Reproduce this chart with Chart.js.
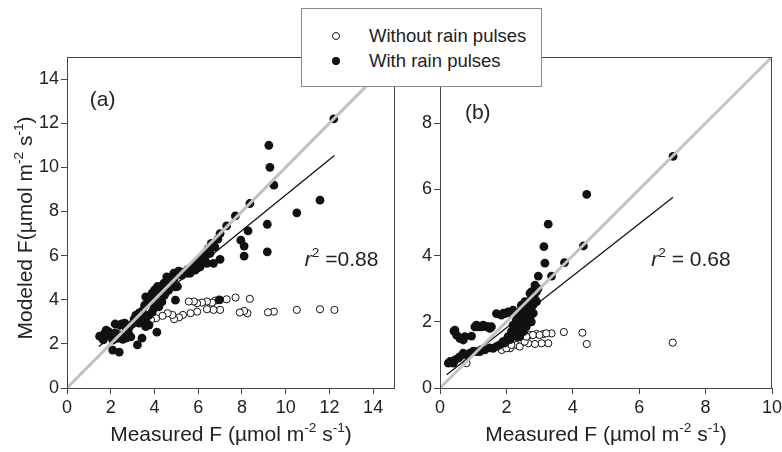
<!DOCTYPE html>
<html>
<head>
<meta charset="UTF-8">
<title>Modeled vs measured F</title>
<script src="https://cdn.jsdelivr.net/npm/chart.js@4.4.0/dist/chart.umd.min.js"></script>
<style>
  body { margin: 0; background: #fff; }
  #wrap { position: relative; width: 782px; height: 452px; }
  #c1 { position: absolute; left: 0; top: 0; }
  #c2 { position: absolute; left: 400px; top: 0; }
  #legend {
    position: absolute; left: 301px; top: 8px; width: 239px; height: 77px;
    background: #fff; border: 1px solid #8a8a8a;
    font-family: "Liberation Sans", Arial, sans-serif; font-size: 18.5px; color: #222;
  }
  .row { position: absolute; left: 30px; height: 22px; line-height: 22px; white-space: nowrap; }
  .dot { position: absolute; left: 0; top: 7px; width: 8px; height: 8px; border-radius: 50%; box-sizing: border-box; }
  .row span.t { position: absolute; left: 37px; }
</style>
</head>
<body>
<div id="wrap">
  <canvas id="c1" width="400" height="452"></canvas>
  <canvas id="c2" width="382" height="452"></canvas>
  <div id="legend">
    <div class="row" style="top:16px"><div class="dot" style="border:1px solid #111;background:#fff"></div><span class="t">Without rain pulses</span></div>
    <div class="row" style="top:41px"><div class="dot" style="background:#111"></div><span class="t">With rain pulses</span></div>
  </div>
</div>
<script>
// tick labels
var aTicks = [0, 2, 4, 6, 8, 10, 12, 14];
var bTicks = [0, 2, 4, 6, 8, 10];

// panel (a)
var aFillX = [12.2, 9.23, 9.28, 9.46, 8.36, 10.51, 11.57, 9.16, 9.16, 8.28, 7.95, 8.1, 8.1, 7.7, 7.3, 7.0, 7.0, 6.7, 6.96, 4.96, 4.11, 3.6, 3.43, 3.22, 2.39, 2.09,
  1.49, 1.79, 2.09, 2.7, 2.92, 3.07, 3.6, 3.75, 3.6, 3.89, 4.2, 4.5, 4.2, 3.98, 4.56, 4.88, 5.18, 4.96, 4.79, 5.41, 5.63, 5.86, 6.09, 6.31, 6.54, 6.76, 6.6,
  3.75, 3.3, 2.7, 4.34, 4.65, 4.43, 2.4, 2.64, 3.1, 3.24, 4.0, 4.14, 4.37, 4.74, 5.05, 5.5, 5.95, 6.17, 6.4, 1.66,
  1.7, 1.9, 2.0, 2.2, 2.3, 2.5, 2.55, 2.8, 2.85, 3.0, 3.15, 3.3, 3.45, 3.55, 3.7, 3.8, 3.95, 4.05, 4.1, 4.25, 4.4, 4.55, 4.7, 4.85, 5.0,
  5.25, 5.5, 5.7, 5.9, 6.0, 6.2, 6.35, 6.45, 6.65, 6.9, 3.35, 3.5, 3.9, 4.45, 4.9, 5.1, 2.2, 2.5];
var aFillY = [12.2, 11.0, 10.0, 9.19, 8.36, 7.94, 8.51, 7.42, 6.17, 7.12, 6.7, 6.43, 5.98, 7.8, 7.35, 7.0, 5.83, 5.65, 3.99, 3.98, 2.53, 2.78, 2.26, 1.95, 1.63, 1.72,
  2.35, 2.62, 2.17, 2.26, 2.32, 3.12, 3.08, 3.3, 4.13, 4.3, 4.58, 4.3, 3.68, 3.62, 5.04, 5.2, 5.26, 4.58, 4.81, 5.26, 5.2, 5.34, 5.49, 5.79, 6.1, 6.4, 6.55,
  2.85, 2.94, 2.71, 3.9, 4.43, 4.75, 2.86, 2.94, 3.1, 3.3, 4.44, 4.6, 4.29, 4.6, 4.6, 5.2, 5.42, 5.8, 5.65, 2.18,
  2.45, 2.55, 2.35, 2.5, 2.25, 2.4, 2.2, 2.5, 2.75, 2.9, 3.3, 3.4, 3.5, 3.75, 3.9, 4.05, 4.2, 3.9, 4.3, 4.45, 4.6, 4.7, 4.9, 5.05, 5.2,
  5.1, 5.35, 5.45, 5.6, 5.7, 5.9, 6.05, 6.3, 6.45, 6.75, 3.0, 3.25, 3.45, 4.2, 4.95, 5.3, 2.9, 2.9];
var aOpenX = [12.23, 11.57, 10.51, 9.46, 9.19, 8.36, 7.71, 8.25, 8.1, 7.9, 7.3, 7.0, 6.78, 6.63, 6.4, 6.17, 5.95, 5.8, 5.57, 7.0, 6.7, 6.4, 5.95, 5.65, 5.3, 5.12, 4.9, 4.82, 4.6, 4.37, 4.07, 3.84];
var aOpenY = [3.54, 3.57, 3.54, 3.46, 3.43, 4.04, 4.1, 3.39, 3.49, 3.42, 4.02, 3.99, 3.96, 3.87, 3.92, 3.87, 3.84, 3.92, 3.92, 3.54, 3.54, 3.57, 3.46, 3.39, 3.31, 3.2, 3.12, 3.31, 3.39, 3.27, 3.16, 3.09];
var aFitX = [1.46, 12.23], aFitY = [1.88, 10.54];

// panel (b)
var bFillX = [7.02, 4.42, 3.26, 3.13, 3.16, 2.96, 4.32, 3.75, 3.36, 2.86, 2.71, 2.91, 2.56, 1.91, 2.11, 2.36, 2.41, 2.61, 2.26, 2.51, 2.71,
  1.05, 1.25, 1.45, 0.42, 0.7, 0.95, 0.25, 0.4, 0.7, 0.55, 1.0, 1.25, 1.5, 1.71, 1.96, 2.11, 2.21, 2.31, 2.46, 2.66, 2.81, 2.61, 2.76, 0.6,
  2.2, 2.3, 2.35, 2.4, 2.45, 2.5, 2.55, 2.6, 2.65, 2.7, 2.75, 2.8, 2.85, 2.9, 2.95, 2.3, 2.4, 2.5, 2.6, 2.75, 2.6, 2.45, 2.2, 2.05, 1.85, 1.7,
  0.3, 0.45, 0.6, 0.8, 0.9, 1.1, 1.2, 1.35, 1.6, 1.8, 1.9, 2.0, 2.05, 2.15,
  0.45, 0.5, 0.6, 0.75, 1.1, 1.15, 1.3, 1.4, 1.5, 1.55, 1.95];
var bFillY = [7.0, 5.85, 4.95, 4.27, 3.77, 3.38, 4.29, 3.79, 3.38, 3.11, 2.86, 2.61, 2.61, 2.26, 2.26, 2.16, 1.95, 1.95, 1.75, 1.7, 2.11,
  1.85, 1.85, 1.85, 1.72, 1.45, 1.57, 0.75, 0.75, 1.05, 0.9, 1.11, 1.16, 1.21, 1.26, 1.36, 1.46, 1.61, 1.56, 2.41, 2.06, 2.26, 2.31, 2.91, 1.51,
  1.9, 2.05, 1.8, 2.2, 2.3, 2.0, 2.15, 1.85, 2.4, 2.3, 2.0, 2.5, 2.7, 2.9, 3.0, 1.65, 1.55, 1.75, 2.05, 2.7, 2.5, 2.5, 2.35, 2.3, 2.2, 2.25,
  0.8, 0.85, 0.95, 1.0, 1.05, 1.1, 1.1, 1.15, 1.2, 1.3, 1.4, 1.45, 1.55, 1.7,
  1.75, 1.6, 1.5, 1.55, 1.9, 1.85, 1.9, 1.85, 1.8, 1.85, 2.25];
var bOpenX = [7.01, 4.42, 4.29, 3.73, 3.36, 3.26, 3.06, 2.86, 2.66, 3.11, 2.91, 2.71, 2.51, 2.46, 2.26, 2.11, 1.86, 0.8, 2.3, 2.4, 2.0, 2.15, 2.55, 2.8, 3.0, 3.2, 2.6];
var bOpenY = [1.37, 1.33, 1.67, 1.69, 1.65, 1.35, 1.35, 1.33, 1.35, 1.63, 1.63, 1.6, 1.58, 1.37, 1.35, 1.2, 1.15, 0.75, 1.3, 1.25, 1.2, 1.3, 1.4, 1.6, 1.6, 1.65, 1.55];
var bFitX = [0.2, 7.02], bFitY = [0.4, 5.76];

var FONT = '"Liberation Sans", Arial, sans-serif';

function pts(xs, ys) {
  return xs.map(function (x, i) { return { x: x, y: ys[i] }; });
}

// text with raised parts: [[text, sup, italic], ...]
function drawRich(ctx, parts, x, y, size) {
  var w = 0, sub = size * 0.65;
  parts.forEach(function (p) {
    ctx.font = (p[2] ? 'italic ' : '') + (p[1] ? sub : size) + 'px ' + FONT;
    w += ctx.measureText(p[0]).width;
  });
  var cx = x - w / 2;
  parts.forEach(function (p) {
    ctx.font = (p[2] ? 'italic ' : '') + (p[1] ? sub : size) + 'px ' + FONT;
    ctx.fillText(p[0], cx, p[1] ? y - size * 0.42 : y);
    cx += ctx.measureText(p[0]).width;
  });
}

var unitParts = [['Measured F (\u00b5mol m', 0], ['-2', 1], [' s', 0], ['-1', 1], [')', 0]];

function makeChart(id, o) {
  var deco = {
    id: 'deco',
    afterDatasetsDraw: function (chart) {
      var ctx = chart.ctx, a = chart.chartArea;
      ctx.save();
      ctx.strokeStyle = '#444';
      ctx.lineWidth = 1;
      ctx.strokeRect(a.left + 0.5, a.top + 0.5, a.right - a.left - 1, a.bottom - a.top);
      ctx.fillStyle = '#222';
      ctx.textBaseline = 'alphabetic';
      drawRich(ctx, unitParts, (a.left + a.right) / 2, 441, 21);
      if (o.yTitle) {
        ctx.save();
        ctx.translate(32, 228);
        ctx.rotate(-Math.PI / 2);
        drawRich(ctx, [['Modeled F(\u00b5mol m', 0], ['-2', 1], [' s', 0], ['-1', 1], [')', 0]], 0, 0, 21);
        ctx.restore();
      }
      var xs = chart.scales.x, ys = chart.scales.y;
      ctx.textAlign = 'left';
      ctx.font = '21px ' + FONT;
      ctx.fillText(o.tag, xs.getPixelForValue(o.tagPos[0]), ys.getPixelForValue(o.tagPos[1]));
      drawRich(ctx, [['r', 0, 1], ['2', 1], [o.r2, 0]], xs.getPixelForValue(o.r2Pos[0]), ys.getPixelForValue(o.r2Pos[1]), 21);
      ctx.restore();
    }
  };
  var axis = function (max, w, isY) {
    return {
      type: 'linear', min: 0, max: max,
      afterBuildTicks: function (s) {
        s.ticks = o.ticks.map(function (v) { return { value: v }; });
      },
      afterFit: function (s) {
        if (isY) s.width = w; else s.height = w;
        s.paddingLeft = s.paddingRight = s.paddingTop = s.paddingBottom = 0;
      },
      ticks: { autoSkip: false, maxRotation: 0, color: '#222', padding: isY ? 2 : 3, font: { family: FONT, size: 18 } },
      grid: { drawOnChartArea: false, drawTicks: true, tickLength: 6, color: '#444' },
      border: { display: false }
    };
  };
  return new Chart(document.getElementById(id), {
    type: 'scatter',
    data: {
      datasets: [
        { data: [{ x: 0, y: 0 }, { x: o.max, y: o.max }], showLine: true, borderColor: '#c2c2c2', borderWidth: 3, pointRadius: 0, order: 0 },
        { data: pts(o.fitX, o.fitY), showLine: true, borderColor: '#111', borderWidth: 1.3, pointRadius: 0, order: 1 },
        { data: pts(o.fillX, o.fillY), pointRadius: 4.4, backgroundColor: '#111', borderColor: '#111', borderWidth: 0, order: 2 },
        { data: pts(o.openX, o.openY), pointRadius: 3.6, backgroundColor: '#fff', borderColor: '#111', borderWidth: 1, order: 3 }
      ]
    },
    options: {
      responsive: false,
      animation: false,
      layout: { padding: { top: 57, right: o.padR, left: 0, bottom: 0 } },
      plugins: { legend: { display: false }, tooltip: { enabled: false } },
      scales: {
        x: axis(o.max, 64, false),
        y: axis(o.max, o.yW, true)
      }
    },
    plugins: [deco]
  });
}

makeChart('c1', {
  max: 15, yW: 67, padR: 1, yTitle: true, ticks: aTicks,
  fillX: aFillX, fillY: aFillY, openX: aOpenX, openY: aOpenY, fitX: aFitX, fitY: aFitY,
  tag: '(a)', tagPos: [1.04, 12.8], r2: ' =0.88', r2Pos: [12.56, 5.55]
});
makeChart('c2', {
  max: 10, yW: 40, padR: 10, yTitle: false, ticks: bTicks,
  fillX: bFillX, fillY: bFillY, openX: bOpenX, openY: bOpenY, fitX: bFitX, fitY: bFitY,
  tag: '(b)', tagPos: [0.75, 8.13], r2: ' = 0.68', r2Pos: [7.56, 3.69]
});
</script>
</body>
</html>
